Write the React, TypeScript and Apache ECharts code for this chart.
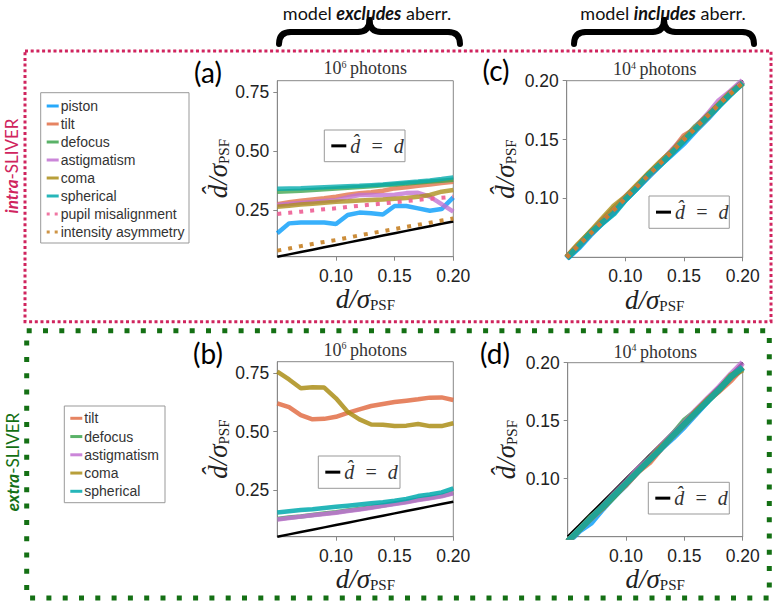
import React, { useEffect, useRef } from 'react';
import * as echarts from 'echarts';

// d / sigma_PSF sample positions
const XS = [0.05, 0.06, 0.07, 0.08, 0.09, 0.10, 0.11, 0.12, 0.13, 0.14, 0.15, 0.16, 0.17, 0.18, 0.19, 0.20];
const IDENTITY = [0.05, 0.06, 0.07, 0.08, 0.09, 0.10, 0.11, 0.12, 0.13, 0.14, 0.15, 0.16, 0.17, 0.18, 0.19, 0.20];

// (a) intra-SLIVER, model excludes aberration, 10^6 photons
const A_PISTON = [0.150, 0.192, 0.196, 0.196, 0.196, 0.189, 0.228, 0.238, 0.235, 0.230, 0.266, 0.266, 0.256, 0.246, 0.253, 0.303];
const A_TILT = [0.274, 0.282, 0.288, 0.294, 0.299, 0.306, 0.314, 0.320, 0.325, 0.331, 0.341, 0.346, 0.352, 0.358, 0.364, 0.369];
const A_DEFOCUS = [0.327, 0.329, 0.331, 0.334, 0.337, 0.341, 0.344, 0.347, 0.350, 0.354, 0.358, 0.362, 0.366, 0.370, 0.374, 0.378];
const A_ASTIG = [0.270, 0.275, 0.279, 0.283, 0.287, 0.291, 0.303, 0.313, 0.313, 0.312, 0.314, 0.321, 0.322, 0.306, 0.274, 0.242];
const A_COMA = [0.263, 0.267, 0.272, 0.276, 0.280, 0.284, 0.286, 0.289, 0.292, 0.294, 0.297, 0.300, 0.305, 0.313, 0.327, 0.334];
const A_SPHERICAL = [0.340, 0.341, 0.342, 0.344, 0.346, 0.348, 0.350, 0.352, 0.355, 0.358, 0.362, 0.366, 0.370, 0.375, 0.381, 0.388];
const A_PUPIL = [0.232, 0.237, 0.242, 0.247, 0.252, 0.256, 0.262, 0.267, 0.272, 0.277, 0.282, 0.287, 0.292, 0.297, 0.301, 0.306];
const A_INTENSITY = [0.076, 0.085, 0.095, 0.104, 0.113, 0.121, 0.131, 0.141, 0.150, 0.159, 0.168, 0.177, 0.186, 0.195, 0.204, 0.213];

// (b) extra-SLIVER, model excludes aberration, 10^6 photons
const B_TILT = [0.621, 0.605, 0.571, 0.553, 0.555, 0.564, 0.581, 0.596, 0.610, 0.619, 0.627, 0.633, 0.639, 0.646, 0.647, 0.636];
const B_DEFOCUS = [0.126, 0.132, 0.137, 0.143, 0.149, 0.155, 0.162, 0.169, 0.176, 0.184, 0.192, 0.200, 0.209, 0.217, 0.225, 0.238];
const B_ASTIG = [0.124, 0.130, 0.136, 0.142, 0.147, 0.153, 0.160, 0.167, 0.174, 0.182, 0.190, 0.198, 0.207, 0.215, 0.223, 0.236];
const B_COMA = [0.757, 0.724, 0.686, 0.690, 0.689, 0.643, 0.585, 0.553, 0.531, 0.530, 0.524, 0.526, 0.533, 0.524, 0.524, 0.536];
const B_SPHERICAL = [0.154, 0.159, 0.164, 0.168, 0.173, 0.178, 0.183, 0.188, 0.193, 0.198, 0.204, 0.212, 0.224, 0.231, 0.240, 0.257];

// (c) intra-SLIVER, model includes aberration, 10^4 photons
const C_PISTON = [0.049, 0.058, 0.069, 0.079, 0.088, 0.099, 0.109, 0.119, 0.129, 0.138, 0.147, 0.158, 0.168, 0.179, 0.189, 0.199];
const C_TILT = [0.050, 0.060, 0.070, 0.080, 0.090, 0.100, 0.110, 0.120, 0.130, 0.140, 0.153, 0.159, 0.169, 0.180, 0.190, 0.199];
const C_DEFOCUS = [0.050, 0.060, 0.071, 0.080, 0.091, 0.100, 0.110, 0.121, 0.130, 0.140, 0.150, 0.161, 0.170, 0.180, 0.190, 0.199];
const C_ASTIG = [0.050, 0.060, 0.070, 0.081, 0.090, 0.101, 0.110, 0.120, 0.130, 0.141, 0.151, 0.160, 0.171, 0.183, 0.191, 0.200];
const C_COMA = [0.050, 0.061, 0.071, 0.082, 0.093, 0.101, 0.111, 0.121, 0.131, 0.140, 0.151, 0.160, 0.170, 0.180, 0.190, 0.198];
const C_SPHERICAL = [0.049, 0.059, 0.070, 0.079, 0.087, 0.099, 0.109, 0.120, 0.129, 0.139, 0.149, 0.159, 0.169, 0.179, 0.189, 0.198];
const C_PUPIL = [0.050, 0.060, 0.070, 0.080, 0.090, 0.100, 0.110, 0.120, 0.130, 0.140, 0.150, 0.160, 0.170, 0.180, 0.190, 0.199];
const C_INTENSITY = [0.050, 0.060, 0.070, 0.080, 0.090, 0.100, 0.110, 0.120, 0.130, 0.140, 0.150, 0.160, 0.170, 0.180, 0.189, 0.198];

// (d) extra-SLIVER, model includes aberration, 10^4 photons
const D_PISTON = [0.045, 0.055, 0.062, 0.074, 0.085, 0.095, 0.106, 0.116, 0.126, 0.135, 0.145, 0.156, 0.167, 0.177, 0.187, 0.195];
const D_TILT = [0.046, 0.056, 0.066, 0.075, 0.086, 0.095, 0.106, 0.114, 0.126, 0.137, 0.147, 0.157, 0.168, 0.176, 0.185, 0.196];
const D_DEFOCUS = [0.046, 0.056, 0.067, 0.075, 0.085, 0.096, 0.107, 0.117, 0.127, 0.138, 0.150, 0.158, 0.167, 0.177, 0.188, 0.196];
const D_ASTIG = [0.046, 0.056, 0.066, 0.076, 0.087, 0.097, 0.108, 0.117, 0.128, 0.138, 0.148, 0.159, 0.169, 0.179, 0.190, 0.200];
const D_COMA = [0.046, 0.056, 0.066, 0.076, 0.086, 0.096, 0.106, 0.116, 0.127, 0.137, 0.147, 0.158, 0.168, 0.177, 0.189, 0.194];
const D_SPHERICAL = [0.046, 0.056, 0.066, 0.076, 0.086, 0.096, 0.106, 0.116, 0.126, 0.137, 0.147, 0.157, 0.167, 0.177, 0.188, 0.196];

const X_TICKS = [0.10, 0.15, 0.20];
const Y_TICKS_WIDE = [0.25, 0.50, 0.75];
const Y_TICKS_NARROW = [0.10, 0.15, 0.20];

const COLORS: Record<string, string> = {
  piston: '#009AFA',
  tilt: '#E26F46',
  defocus: '#3DA44D',
  astigmatism: '#C271D2',
  coma: '#AC8E18',
  spherical: '#00A9AD',
  'pupil misalignment': '#ED5E93',
  'intensity asymmetry': '#C68125',
};

const LEGEND_A = ['piston', 'tilt', 'defocus', 'astigmatism', 'coma', 'spherical', 'pupil misalignment', 'intensity asymmetry'];
const LEGEND_B = ['tilt', 'defocus', 'astigmatism', 'coma', 'spherical'];
const DOTTED = ['pupil misalignment', 'intensity asymmetry'];

const SANS = 'Liberation Sans, Arial, sans-serif';
const SERIF = 'Liberation Serif, Times New Roman, serif';
const HUMAN = 'Lato, Open Sans, sans-serif';
const RED = '#D0245E';
const GREEN = '#147014';

function App() {
  const ref = useRef<HTMLDivElement>(null);

  useEffect(() => {
    if (!ref.current) return;
    const chart = echarts.init(ref.current, undefined, { renderer: 'svg' });

    const grids = [
      { left: 277.3, top: 80.7, width: 176, height: 176 },
      { left: 277.3, top: 361.7, width: 176, height: 175 },
      { left: 566.7, top: 80.7, width: 176, height: 176.6 },
      { left: 567.7, top: 362.7, width: 175, height: 174 },
    ].map((g) => ({ ...g, show: true, borderColor: '#888', borderWidth: 1, backgroundColor: 'transparent', containLabel: false, outerBoundsMode: 'none' }));

    const nameRich = {
      m: { fontFamily: SERIF, fontStyle: 'italic', fontSize: 27, color: '#222', verticalAlign: 'bottom' },
      s: { fontFamily: SERIF, fontSize: 15, color: '#222', verticalAlign: 'bottom' },
    };

    const xAxis = [0, 1, 2, 3].map((gi) => ({
      type: 'value',
      gridIndex: gi,
      min: 0.05,
      max: 0.2,
      interval: 0.05,
      axisLine: { show: true, lineStyle: { color: '#888', width: 1 } },
      axisTick: { show: true, inside: false, length: 4, lineStyle: { color: '#888' }, customValues: X_TICKS },
      axisLabel: {
        customValues: X_TICKS,
        formatter: (v: number) => v.toFixed(2),
        fontSize: 17.5,
        fontFamily: SANS,
        color: '#222',
        margin: 10,
      },
      splitLine: { show: false },
      name: '{m|d/σ}{s|PSF}',
      nameLocation: 'middle',
      nameGap: 26,
      nameTextStyle: { rich: nameRich },
    }));

    const yAxis = [0, 1, 2, 3].map((gi) => {
      const wide = gi < 2;
      const ticks = wide ? Y_TICKS_WIDE : Y_TICKS_NARROW;
      return {
        type: 'value',
        gridIndex: gi,
        min: 0.05,
        max: wide ? 0.8 : 0.2,
        interval: 0.05,
        axisLine: { show: true, lineStyle: { color: '#888', width: 1 } },
        axisTick: { show: true, inside: false, length: 4, lineStyle: { color: '#888' }, customValues: ticks },
        axisLabel: {
          customValues: ticks,
          formatter: (v: number) => v.toFixed(2),
          fontSize: 17.5,
          fontFamily: SANS,
          color: '#222',
          margin: 8,
        },
        splitLine: { show: false },
        name: '{m|d\u0302/σ}{s|PSF}',
        nameLocation: 'middle',
        nameRotate: 90,
        nameGap: wide ? 44 : 48,
        nameTextStyle: { rich: nameRich },
      };
    });

    const mk = (name: string, vals: number[], gi: number, width = 4.5, opacity = 0.78) => ({
      type: 'line',
      name,
      xAxisIndex: gi,
      yAxisIndex: gi,
      data: XS.map((x, i) => [x, vals[i]]),
      showSymbol: false,
      symbol: 'none',
      silent: true,
      clip: true,
      lineStyle: {
        color: COLORS[name] || '#000',
        width,
        opacity,
        type: DOTTED.includes(name) ? [4, 7] : 'solid',
        cap: 'butt',
      },
      itemStyle: { color: COLORS[name] || '#000' },
    });
    const ident = (gi: number) => ({
      type: 'line',
      name: 'identity',
      xAxisIndex: gi,
      yAxisIndex: gi,
      data: XS.map((x, i) => [x, IDENTITY[i]]),
      showSymbol: false,
      symbol: 'none',
      silent: true,
      lineStyle: { color: '#000', width: 2.5 },
      itemStyle: { color: '#000' },
    });

    const series = [
      ident(0),
      mk('piston', A_PISTON, 0),
      mk('tilt', A_TILT, 0),
      mk('defocus', A_DEFOCUS, 0),
      mk('astigmatism', A_ASTIG, 0),
      mk('coma', A_COMA, 0),
      mk('spherical', A_SPHERICAL, 0),
      mk('pupil misalignment', A_PUPIL, 0, 4, 0.9),
      mk('intensity asymmetry', A_INTENSITY, 0, 4, 0.9),

      ident(1),
      mk('tilt', B_TILT, 1, 4.5, 0.85),
      mk('defocus', B_DEFOCUS, 1, 4.5, 0.85),
      mk('astigmatism', B_ASTIG, 1, 4.5, 0.85),
      mk('coma', B_COMA, 1, 4.5, 0.85),
      mk('spherical', B_SPHERICAL, 1, 4.5, 0.85),

      ident(2),
      mk('piston', C_PISTON, 2, 6, 0.8),
      mk('tilt', C_TILT, 2, 6, 0.8),
      mk('defocus', C_DEFOCUS, 2, 6, 0.8),
      mk('astigmatism', C_ASTIG, 2, 6, 0.8),
      mk('coma', C_COMA, 2, 6, 0.8),
      mk('spherical', C_SPHERICAL, 2, 6, 0.8),
      mk('pupil misalignment', C_PUPIL, 2, 4, 0.9),
      mk('intensity asymmetry', C_INTENSITY, 2, 4, 0.9),

      ident(3),
      mk('piston', D_PISTON, 3, 6, 0.8),
      mk('tilt', D_TILT, 3, 6, 0.8),
      mk('defocus', D_DEFOCUS, 3, 6, 0.8),
      mk('astigmatism', D_ASTIG, 3, 6, 0.8),
      mk('coma', D_COMA, 3, 6, 0.8),
      mk('spherical', D_SPHERICAL, 3, 6, 0.8),
    ];

    const graphic: any[] = [];
    const text = (x: number, y: number, t: string, style: any, extra: any = {}) =>
      graphic.push({
        type: 'text',
        x,
        y,
        z: 100,
        silent: true,
        ...extra,
        style: { text: t, align: 'center', verticalAlign: 'middle', textAlign: 'center', textVerticalAlign: 'middle', ...style },
      });

    // Dotted frames
    graphic.push({
      type: 'rect', z: 50, silent: true,
      shape: { x: 25, y: 51, width: 746, height: 270.7 },
      style: { fill: 'none', stroke: RED, lineWidth: 3, lineDash: [3, 2.7] },
    });
    graphic.push({
      type: 'rect', z: 50, silent: true,
      shape: { x: 26.7, y: 330.7, width: 742.6, height: 267.3 },
      style: { fill: 'none', stroke: GREEN, lineWidth: 5, lineDash: [5, 11.3] },
    });

    // Side labels
    const sideRich = (c: string) => ({
      b: { fontFamily: HUMAN, fontSize: 17, fontStyle: 'italic', fontWeight: 'bold', fill: c, color: c },
      n: { fontFamily: HUMAN, fontSize: 17, fill: c, color: c },
    });
    text(11, 166, '{b|intra}{n|-SLIVER}', { rich: sideRich(RED), fill: RED }, { rotation: Math.PI / 2 });
    text(12, 462, '{b|extra}{n|-SLIVER}', { rich: sideRich(GREEN), fill: GREEN }, { rotation: Math.PI / 2 });

    // Headers
    const headRich = {
      n: { fontFamily: HUMAN, fontSize: 18, fill: '#111', color: '#111' },
      b: { fontFamily: HUMAN, fontSize: 18, fontStyle: 'italic', fontWeight: 'bold', fill: '#111', color: '#111' },
    };
    text(367, 13, '{n|model }{b|excludes}{n| aberr.}', { rich: headRich });
    text(663, 13, '{n|model }{b|includes}{n| aberr.}', { rich: headRich });

    // Braces
    const brace = (xa: number, xb: number) => {
      const yt = 20, ym = 32, yb = 44, r = 12;
      const xc = (xa + xb) / 2;
      const st = { stroke: '#000', lineWidth: 6, fill: 'none', lineCap: 'round' };
      const segs = [
        { type: 'bezierCurve', shape: { x1: xa, y1: yb, x2: xa + r, y2: ym, cpx1: xa, cpy1: ym } },
        { type: 'line', shape: { x1: xa + r, y1: ym, x2: xc - r, y2: ym } },
        { type: 'bezierCurve', shape: { x1: xc - r, y1: ym, x2: xc, y2: yt, cpx1: xc, cpy1: ym } },
        { type: 'bezierCurve', shape: { x1: xc, y1: yt, x2: xc + r, y2: ym, cpx1: xc, cpy1: ym } },
        { type: 'line', shape: { x1: xc + r, y1: ym, x2: xb - r, y2: ym } },
        { type: 'bezierCurve', shape: { x1: xb - r, y1: ym, x2: xb, y2: yb, cpx1: xb, cpy1: ym } },
      ];
      segs.forEach((s) => graphic.push({ ...s, z: 100, silent: true, style: st }));
    };
    brace(279, 460);
    brace(574, 754);

    // Panel letters
    const panel = { fontFamily: HUMAN, fontSize: 28, fill: '#000' };
    text(208, 72, '(a)', panel);
    text(496, 70, '(c)', panel);
    text(208, 353, '(b)', panel);
    text(495, 353, '(d)', panel);

    // Panel titles
    const titleRich = {
      a: { fontFamily: SERIF, fontSize: 18, fill: '#333', color: '#333', verticalAlign: 'bottom' },
      p: { fontFamily: SERIF, fontSize: 10, fill: '#333', color: '#333', verticalAlign: 'top' },
    };
    text(365.3, 68, '{a|10}{p|6}{a|\u2009photons}', { rich: titleRich });
    text(654.7, 69, '{a|10}{p|4}{a|\u2009photons}', { rich: titleRich });
    text(365.3, 349.5, '{a|10}{p|6}{a|\u2009photons}', { rich: titleRich });
    text(655.2, 351.5, '{a|10}{p|4}{a|\u2009photons}', { rich: titleRich });

    // Aberration legends
    const legend = (x: number, y: number, w: number, h: number, names: string[], firstY: number, step: number) => {
      graphic.push({
        type: 'rect', z: 100, silent: true,
        shape: { x, y, width: w, height: h },
        style: { fill: '#fff', stroke: '#999', lineWidth: 1 },
      });
      names.forEach((n, i) => {
        const yy = firstY + i * step;
        const dotted = DOTTED.includes(n);
        graphic.push({
          type: 'line', z: 101, silent: true,
          shape: { x1: x + 6, y1: yy, x2: x + 18, y2: yy },
          style: { stroke: COLORS[n], lineWidth: 3, lineDash: dotted ? [3, 5] : null, opacity: 0.85 },
        });
        graphic.push({
          type: 'text', z: 101, silent: true, x: x + 20, y: yy,
          style: { text: n, fontFamily: SANS, fontSize: 14, fill: '#333', align: 'left', verticalAlign: 'middle', textAlign: 'left', textVerticalAlign: 'middle' },
        });
      });
    };
    legend(40.7, 92.7, 148.3, 150.3, LEGEND_A, 106, 18.0);
    legend(64.3, 406, 100.7, 96.7, LEGEND_B, 418.3, 18.25);

    // Identity legends
    const identLegend = (x: number, y: number, w: number, h: number) => {
      graphic.push({
        type: 'rect', z: 100, silent: true,
        shape: { x, y, width: w, height: h },
        style: { fill: '#fff', stroke: '#999', lineWidth: 1 },
      });
      graphic.push({
        type: 'line', z: 101, silent: true,
        shape: { x1: x + 7, y1: y + h / 2, x2: x + 22, y2: y + h / 2 },
        style: { stroke: '#000', lineWidth: 3 },
      });
      graphic.push({
        type: 'text', z: 101, silent: true, x: x + 26, y: y + h / 2,
        style: {
          text: 'd\u0302\u2002=\u2002d', fontFamily: SERIF, fontStyle: 'italic', fontSize: 20, fill: '#333',
          align: 'left', verticalAlign: 'middle', textAlign: 'left', textVerticalAlign: 'middle',
        },
      });
    };
    identLegend(324.3, 130, 80.7, 31.7);
    identLegend(649, 196, 80.3, 32.3);
    identLegend(318.3, 456, 81.7, 32.3);
    identLegend(648.3, 482.3, 81, 31.7);

    chart.setOption({
      animation: false,
      backgroundColor: '#fff',
      grid: grids,
      xAxis,
      yAxis,
      series,
      graphic,
    });

    return () => chart.dispose();
  }, []);

  return <div ref={ref} style={{ position: 'fixed', left: 0, top: 0, width: 775, height: 607, background: '#fff' }} />;
}

export default App;
